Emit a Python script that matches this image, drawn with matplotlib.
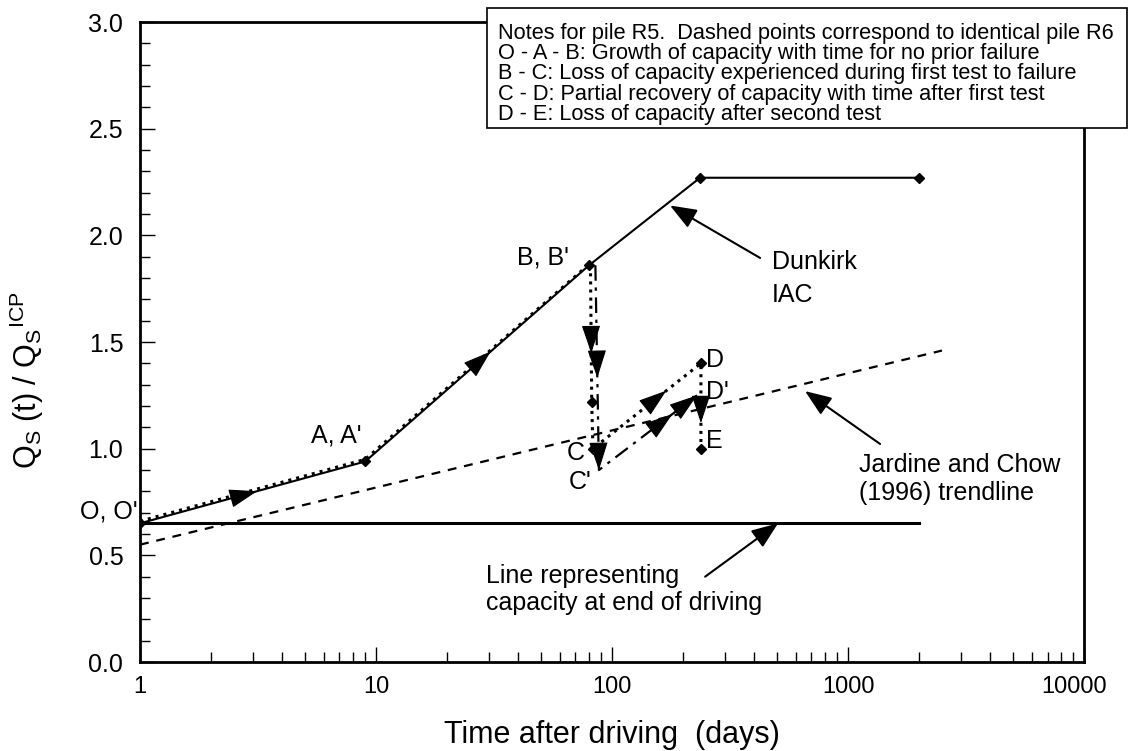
import numpy as np
import matplotlib
matplotlib.use('Agg')
from matplotlib import pyplot as plt
from matplotlib.patches import Rectangle
from matplotlib.transforms import ScaledTranslation
from matplotlib.ticker import MultipleLocator, FixedLocator, NullFormatter, FormatStrFormatter

plt.rcParams['font.family'] = ['Liberation Sans', 'DejaVu Sans']
plt.rcParams['mathtext.fontset'] = 'custom'
plt.rcParams['mathtext.rm'] = 'Liberation Sans'

# curva Dunkirk IAC
t_iac = [1, 9, 80, 236, 2000]
q_iac = [0.65, 0.94, 1.86, 2.27, 2.27]

# pilote R5 (puntos)
t_r5 = [1, 9, 81, 82, 83, 238, 238]
q_r5 = [0.66, 0.95, 1.87, 1.22, 1.00, 1.40, 1.00]

# pilote R6 (raya-punto)
t_r6 = [85, 88, 229]
q_r6 = [1.86, 0.90, 1.25]

# tendencia Jardine and Chow (1996)
t_jc = [1, 2500]
q_jc = [0.55, 1.46]

# capacidad al final de la hinca
t_eod = [1, 2000]
q_eod = [0.65, 0.65]

notas = ["Notes for pile R5.  Dashed points correspond to identical pile R6",
         "O - A - B: Growth of capacity with time for no prior failure",
         "B - C: Loss of capacity experienced during first test to failure",
         "C - D: Partial recovery of capacity with time after first test",
         "D - E: Loss of capacity after second test"]


def flecha(ax, p0, p1, f):
    # punta de flecha sobre el segmento p0-p1 (x en escala log)
    x0, x1 = np.log10(p0[0]), np.log10(p1[0])
    y0, y1 = p0[1], p1[1]
    tip = (10 ** (x0 + f * (x1 - x0)), y0 + f * (y1 - y0))
    g = f - 0.05
    tail = (10 ** (x0 + g * (x1 - x0)), y0 + g * (y1 - y0))
    ax.annotate('', xy=tip, xytext=tail,
                arrowprops=dict(arrowstyle='-|>,head_length=0.9,head_width=0.3',
                                color='k', lw=0.8, shrinkA=0, shrinkB=0,
                                mutation_scale=20), zorder=6)


fig = plt.figure(figsize=(11.31, 7.51), dpi=100)
ax = fig.add_axes([0.1238, 0.1185, 0.8347, 0.8522])

ax.plot(t_eod, q_eod, 'k-', lw=2.2, zorder=3)
ax.plot(t_jc, q_jc, 'k--', lw=1.6, dashes=(4, 3.5), zorder=3)
ax.plot(t_iac, q_iac, 'k-', lw=1.5, marker='D', ms=5, zorder=4)
ax.plot(t_r5, q_r5, 'k:', lw=2.2, zorder=4)
ax.plot(t_r5[3:], q_r5[3:], 'kD', ms=5, zorder=5)
ax.plot(t_r6, q_r6, 'k-.', lw=1.6, dashes=(7, 3, 1.5, 3), zorder=4)

# flechas de direccion
flecha(ax, (t_iac[0], q_iac[0]), (t_iac[1], q_iac[1]), 0.52)
flecha(ax, (t_iac[1], q_iac[1]), (t_iac[2], q_iac[2]), 0.56)
flecha(ax, (t_r5[2], q_r5[2]), (t_r5[3], q_r5[3]), 0.65)
flecha(ax, (t_r6[0], q_r6[0]), (t_r6[1], q_r6[1]), 0.55)
flecha(ax, (t_r6[0], q_r6[0]), (t_r6[1], q_r6[1]), 1.0)
flecha(ax, (t_r5[4], q_r5[4]), (t_r5[5], q_r5[5]), 0.68)
flecha(ax, (t_r6[1], q_r6[1]), (t_r6[2], q_r6[2]), 0.75)
flecha(ax, (t_r6[1], q_r6[1]), (t_r6[2], q_r6[2]), 1.0)
flecha(ax, (t_r5[5], q_r5[5]), (t_r5[6], q_r5[6]), 0.7)

# etiquetas de los puntos
fs = 18
ax.text(0.975, 0.705, "O, O'", fontsize=fs, ha='right', va='center', clip_on=False)
ax.text(6.8, 1.06, "A, A'", fontsize=fs, ha='center', va='center')
ax.text(51, 1.895, "B, B'", fontsize=fs, ha='center', va='center')
ax.text(70.5, 0.98, "C", fontsize=fs, ha='center', va='center')
ax.text(73, 0.845, "C'", fontsize=fs, ha='center', va='center')
ax.text(250, 1.415, "D", fontsize=fs, ha='left', va='center')
ax.text(250, 1.265, "D'", fontsize=fs, ha='left', va='center')
ax.text(250, 1.035, "E", fontsize=fs, ha='left', va='center')

ap = dict(arrowstyle='-|>,head_length=0.9,head_width=0.35', color='k', lw=1.5,
          shrinkA=0, shrinkB=0, mutation_scale=18)
ax.annotate('', xy=(176, 2.14), xytext=(424, 1.894), arrowprops=ap)
ax.text(476, 1.93, 'Dunkirk\nIAC', fontsize=fs, ha='left', va='top', linespacing=1.45)
ax.annotate('', xy=(657, 1.27), xytext=(1367, 1.022), arrowprops=ap)
ax.text(1113, 0.98, 'Jardine and Chow\n(1996) trendline', fontsize=fs, ha='left',
        va='top', linespacing=1.2)
ax.annotate('', xy=(505, 0.65), xytext=(248, 0.40), arrowprops=ap)
ax.text(29.2, 0.46, 'Line representing\ncapacity at end of driving', fontsize=fs,
        ha='left', va='top', linespacing=1.15)

ax.set_xscale('log')
ax.set_xlim(1, 10000)
ax.set_ylim(0, 3.0)
ax.xaxis.set_major_locator(FixedLocator([1, 10, 100, 1000, 10000]))
ax.set_xticklabels(['1', '10', '100', '1000', '10000'])
ax.xaxis.set_minor_locator(FixedLocator([m * 10 ** e for e in range(4) for m in range(2, 10)]))
ax.xaxis.set_minor_formatter(NullFormatter())
ax.yaxis.set_major_locator(MultipleLocator(0.5))
ax.yaxis.set_minor_locator(MultipleLocator(0.1))
ax.yaxis.set_major_formatter(FormatStrFormatter('%.1f'))

ax.tick_params(which='both', direction='in', top=False, right=False, width=1)
ax.tick_params(which='major', length=11)
ax.tick_params(which='minor', length=7)
ax.tick_params(axis='y', labelsize=18, pad=12)
ax.tick_params(axis='x', labelsize=17, pad=10)
for s in ax.spines.values():
    s.set_linewidth(2)

# el ultimo rotulo se corre un poco para que quepa
ult = ax.get_xticklabels()[-1]
ult.set_transform(ult.get_transform() + ScaledTranslation(-10 / 100, 0, fig.dpi_scale_trans))

ax.set_xlabel('Time after driving  (days)', fontsize=22, labelpad=16)
ax.set_ylabel(r'$\mathregular{Q_S}$ (t) / $\mathregular{Q_S{}^{ICP}}$', fontsize=22)
ax.yaxis.set_label_coords(-0.100, 0.44)

# cuadro de notas
caja = Rectangle((0.4306, 0.830), 0.566, 0.159, transform=fig.transFigure,
                 facecolor='white', edgecolor='k', lw=1.2, zorder=5)
fig.patches.append(caja)
fig.text(0.4403, 0.970, '\n'.join(notas), fontsize=15.7, ha='left', va='top',
         linespacing=0.96, zorder=6)

fig.savefig('out.png', dpi=100)
